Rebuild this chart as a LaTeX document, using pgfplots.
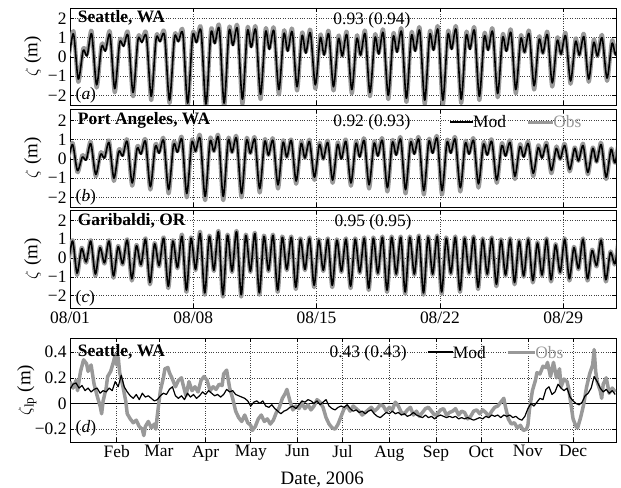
\documentclass[border=0pt]{standalone}
\usepackage{fontspec}
\setmainfont{Liberation Serif}
\usepackage{pgfplots}
\usepackage{pgfplotstable}
\pgfplotsset{compat=1.18}
\definecolor{obsgray}{gray}{0.6}

% tidal elevation, Aug 2006 (day 0 = 08/01)
\pgfplotstableread{
t mod obs
-0.29 0.30 0.40
-0.07 0.00 0.10
0.20 1.20 1.35
0.47 -1.15 -1.30
0.75 0.35 0.45
0.97 0.05 0.15
1.23 1.20 1.35
1.51 -1.45 -1.60
1.79 0.55 0.65
2.01 0.30 0.40
2.27 1.15 1.30
2.54 -1.65 -1.85
2.82 0.75 0.85
3.04 0.55 0.65
3.30 1.10 1.25
3.58 -1.85 -2.05
3.86 0.90 1.00
4.08 0.75 0.85
4.34 1.05 1.20
4.61 -2.05 -2.25
4.89 0.95 1.05
5.11 0.80 0.85
5.37 1.10 1.25
5.65 -2.25 -2.40
5.93 1.00 1.10
6.15 0.80 0.85
6.41 1.20 1.35
6.68 -2.40 -2.55
6.96 1.10 1.20
7.18 0.75 0.80
7.44 1.35 1.50
7.72 -2.45 -2.60
8.00 1.25 1.40
8.22 0.70 0.75
8.48 1.45 1.60
8.75 -2.40 -2.60
9.03 1.35 1.50
9.25 0.60 0.65
9.51 1.45 1.60
9.79 -2.20 -2.45
10.07 1.35 1.50
10.29 0.50 0.55
10.55 1.40 1.55
10.82 -1.95 -2.20
11.10 1.30 1.45
11.32 0.40 0.45
11.58 1.35 1.50
11.86 -1.70 -1.95
12.14 1.20 1.35
12.36 0.30 0.35
12.62 1.30 1.45
12.89 -1.55 -1.75
13.17 1.10 1.25
13.39 0.20 0.25
13.65 1.25 1.40
13.93 -1.45 -1.65
14.21 1.00 1.15
14.43 0.10 0.15
14.69 1.20 1.35
14.96 -1.55 -1.75
15.24 0.95 1.10
15.46 0.05 0.05
15.72 1.15 1.30
16.00 -1.70 -1.90
16.28 0.95 1.10
16.50 0.10 0.10
16.76 1.20 1.35
17.03 -1.85 -2.05
17.31 1.00 1.15
17.53 0.15 0.20
17.79 1.25 1.40
18.07 -2.00 -2.20
18.35 1.05 1.20
18.57 0.25 0.30
18.83 1.30 1.45
19.10 -2.15 -2.35
19.38 1.10 1.25
19.60 0.30 0.35
19.86 1.35 1.50
20.14 -2.25 -2.45
20.42 1.15 1.30
20.64 0.35 0.40
20.90 1.40 1.55
21.17 -2.25 -2.50
21.45 1.15 1.30
21.67 0.40 0.45
21.93 1.40 1.55
22.21 -2.20 -2.40
22.49 1.10 1.25
22.71 0.40 0.45
22.97 1.35 1.50
23.24 -2.05 -2.25
23.52 1.05 1.20
23.74 0.35 0.40
24.00 1.30 1.45
24.28 -1.90 -2.10
24.56 1.00 1.15
24.78 0.30 0.35
25.04 1.25 1.40
25.31 -1.70 -1.90
25.59 0.95 1.10
25.81 0.25 0.25
26.07 1.20 1.35
26.35 -1.50 -1.70
26.63 0.90 1.05
26.85 0.20 0.20
27.11 1.15 1.30
27.38 -1.35 -1.55
27.66 0.85 1.00
27.88 0.15 0.15
28.14 1.10 1.25
28.42 -1.25 -1.40
28.70 0.80 0.95
28.92 0.10 0.10
29.18 1.05 1.20
29.45 -1.15 -1.30
29.73 0.75 0.90
29.95 0.05 0.05
30.21 1.00 1.15
30.49 -1.10 -1.25
30.77 0.70 0.85
30.99 0.10 0.15
31.25 1.00 1.10
31.52 -1.10 -1.25
}\seadata

\pgfplotstableread{
t mod obs
-0.34 0.10 0.15
-0.12 -0.05 0.00
0.15 0.75 0.85
0.42 -0.60 -0.70
0.70 0.10 0.20
0.92 -0.05 0.00
1.18 0.80 0.90
1.46 -0.80 -0.90
1.74 0.25 0.35
1.96 0.05 0.10
2.22 0.85 0.95
2.49 -1.00 -1.15
2.77 0.40 0.50
2.99 0.15 0.20
3.25 0.90 1.00
3.53 -1.25 -1.40
3.81 0.55 0.65
4.03 0.25 0.30
4.29 0.90 1.00
4.56 -1.45 -1.60
4.84 0.65 0.75
5.06 0.30 0.35
5.32 0.95 1.05
5.60 -1.60 -1.80
5.88 0.75 0.85
6.10 0.35 0.40
6.36 1.00 1.10
6.63 -1.80 -2.00
6.91 0.85 0.95
7.13 0.40 0.40
7.39 1.05 1.20
7.67 -1.95 -2.15
7.95 0.90 1.05
8.17 0.40 0.40
8.43 1.10 1.20
8.70 -1.95 -2.15
8.98 0.95 1.05
9.20 0.35 0.35
9.46 1.05 1.15
9.74 -1.80 -2.00
10.02 0.95 1.05
10.24 0.30 0.30
10.50 1.00 1.10
10.77 -1.55 -1.75
11.05 0.90 1.00
11.27 0.20 0.20
11.53 0.95 1.05
11.81 -1.35 -1.55
12.09 0.85 0.95
12.31 0.10 0.10
12.57 0.95 1.00
12.84 -1.15 -1.30
13.12 0.80 0.90
13.34 0.05 0.05
13.60 0.90 1.00
13.88 -0.95 -1.10
14.16 0.75 0.85
14.38 0.00 0.00
14.64 0.85 0.95
14.91 -1.10 -1.25
15.19 0.75 0.85
15.41 0.00 0.05
15.67 0.90 1.00
15.95 -1.25 -1.40
16.23 0.80 0.90
16.45 0.10 0.15
16.71 0.95 1.05
16.98 -1.35 -1.55
17.26 0.80 0.90
17.48 0.15 0.20
17.74 0.95 1.05
18.02 -1.50 -1.70
18.30 0.85 0.95
18.52 0.20 0.25
18.78 1.00 1.10
19.05 -1.60 -1.80
19.33 0.85 0.95
19.55 0.25 0.30
19.81 1.00 1.10
20.09 -1.65 -1.85
20.37 0.90 1.00
20.59 0.30 0.35
20.85 1.05 1.15
21.12 -1.65 -1.85
21.40 0.85 0.95
21.62 0.30 0.35
21.88 1.00 1.10
22.16 -1.50 -1.70
22.44 0.80 0.90
22.66 0.25 0.30
22.92 0.95 1.05
23.19 -1.30 -1.50
23.47 0.75 0.85
23.69 0.20 0.25
23.95 0.90 1.00
24.23 -1.10 -1.25
24.51 0.70 0.80
24.73 0.15 0.20
24.99 0.85 0.95
25.26 -0.90 -1.05
25.54 0.65 0.75
25.76 0.10 0.15
26.02 0.80 0.90
26.30 -0.75 -0.90
26.58 0.60 0.70
26.80 0.05 0.10
27.06 0.75 0.85
27.33 -0.60 -0.75
27.61 0.55 0.65
27.83 0.00 0.00
28.09 0.70 0.80
28.37 -0.55 -0.65
28.65 0.55 0.60
28.87 -0.10 -0.10
29.13 0.70 0.80
29.40 -0.70 -0.80
29.68 0.55 0.60
29.90 -0.15 -0.15
30.16 0.75 0.85
30.44 -0.95 -1.05
30.72 0.50 0.55
30.94 -0.20 -0.20
31.20 0.80 0.90
31.47 -1.00 -1.10
}\padata

\pgfplotstableread{
t mod obs
-0.38 0.50 0.55
-0.12 -0.20 -0.25
0.15 0.90 0.95
0.40 -0.80 -0.90
0.66 0.50 0.55
0.92 -0.20 -0.25
1.18 0.90 0.95
1.44 -0.85 -0.95
1.70 0.55 0.60
1.96 -0.25 -0.30
2.22 0.90 0.95
2.47 -0.95 -1.05
2.73 0.60 0.65
2.99 -0.30 -0.35
3.25 0.95 1.00
3.51 -1.10 -1.20
3.77 0.65 0.70
4.03 -0.35 -0.40
4.29 1.00 1.05
4.54 -1.30 -1.40
4.80 0.75 0.80
5.06 -0.40 -0.45
5.32 1.05 1.10
5.58 -1.50 -1.60
5.84 0.90 0.95
6.10 -0.50 -0.55
6.36 1.15 1.25
6.61 -1.70 -1.80
6.87 1.05 1.10
7.13 -0.60 -0.65
7.39 1.30 1.40
7.65 -1.85 -1.95
7.91 1.15 1.20
8.17 -0.65 -0.70
8.43 1.40 1.45
8.68 -1.95 -2.05
8.94 1.20 1.25
9.20 -0.70 -0.75
9.46 1.40 1.45
9.72 -1.95 -2.05
9.98 1.20 1.25
10.24 -0.70 -0.75
10.50 1.30 1.35
10.75 -1.85 -1.95
11.01 1.15 1.20
11.27 -0.65 -0.70
11.53 1.20 1.25
11.79 -1.70 -1.80
12.05 1.10 1.15
12.31 -0.60 -0.65
12.57 1.10 1.15
12.82 -1.55 -1.65
13.08 1.00 1.05
13.34 -0.60 -0.65
13.60 1.05 1.10
13.86 -1.45 -1.55
14.12 0.95 1.00
14.38 -0.65 -0.70
14.64 1.00 1.05
14.89 -1.45 -1.55
15.15 0.95 1.00
15.41 -0.70 -0.75
15.67 1.00 1.05
15.93 -1.50 -1.60
16.19 1.00 1.05
16.45 -0.75 -0.80
16.71 1.05 1.10
16.96 -1.60 -1.70
17.22 1.05 1.10
17.48 -0.80 -0.85
17.74 1.10 1.15
18.00 -1.70 -1.80
18.26 1.10 1.15
18.52 -0.85 -0.90
18.78 1.10 1.15
19.03 -1.80 -1.90
19.29 1.10 1.15
19.55 -0.85 -0.90
19.81 1.15 1.20
20.07 -1.85 -1.95
20.33 1.10 1.15
20.59 -0.85 -0.90
20.85 1.15 1.20
21.10 -1.80 -1.90
21.36 1.05 1.10
21.62 -0.80 -0.85
21.88 1.10 1.15
22.14 -1.70 -1.80
22.40 1.05 1.10
22.66 -0.80 -0.85
22.92 1.10 1.15
23.17 -1.55 -1.65
23.43 1.00 1.05
23.69 -0.85 -0.90
23.95 1.05 1.10
24.21 -1.40 -1.50
24.47 0.95 1.00
24.73 -0.90 -0.95
24.99 1.00 1.05
25.24 -1.30 -1.40
25.50 0.90 0.95
25.76 -0.95 -1.00
26.02 1.00 1.05
26.28 -1.20 -1.30
26.54 0.80 0.85
26.80 -0.90 -0.95
27.06 1.00 1.05
27.31 -1.15 -1.25
27.57 0.70 0.75
27.83 -0.75 -0.80
28.09 1.00 1.05
28.35 -1.10 -1.20
28.61 0.55 0.60
28.87 -0.55 -0.60
29.13 1.00 1.05
29.38 -1.10 -1.20
29.64 0.40 0.45
29.90 -0.40 -0.45
30.16 0.95 1.00
30.42 -1.15 -1.25
30.68 0.30 0.35
30.94 -0.30 -0.35
31.20 1.00 1.05
31.45 -1.15 -1.25
}\gadata

\pgfplotsset{
  base/.style={
    scale only axis, width=546bp, anchor=south west,
    grid=major, major grid style={dotted, black!75, line width=0.6bp},
    tick align=inside, major tick length=4bp,
    every tick/.style={black, line width=0.6bp},
    axis line style={line width=0.8bp},
    font=\fontsize{17.5}{20}\selectfont,
    ylabel style={anchor=center, font=\fontsize{19}{22}\selectfont},
  },
  tide/.style={
    base, xmin=0, xmax=31,
    xtick={0,7,14,21,28}, xticklabels={},
    ytick={-2,-1,0,1,2}, yticklabels={−2,−1,0,1,2},
    ylabel={$\zeta$ (m)},
    ylabel style={at={(rel axis cs:-0.068,0.5)}},
  },
  modline/.style={black, line width=1.6bp, smooth, tension=0.5, line join=round},
  obsline/.style={obsgray, line width=4bp, smooth, tension=0.5, line join=round},
}
\tikzset{site/.style={anchor=west, font=\fontsize{17.5}{20}\selectfont\bfseries}}

\begin{document}
\begin{tikzpicture}
\useasboundingbox (0,0) rectangle (621bp,488bp);

\begin{axis}[tide, at={(70bp,383bp)}, height=97bp, ymin=-2.5, ymax=2.55]
\addplot[obsline] table[x=t, y=obs] {\seadata};
\addplot[modline] table[x=t, y=mod] {\seadata};
\node[site] at (rel axis cs:0.008,0.895) {Seattle, WA};
\node at (rel axis cs:0.553,0.876) {0.93 (0.94)};
\node[anchor=west] at (rel axis cs:0.004,0.1) {(\textit{a})};
\end{axis}

\begin{axis}[tide, at={(70bp,281bp)}, height=98bp, ymin=-2.5, ymax=2.6]
\addplot[obsline] table[x=t, y=obs] {\padata};
\addplot[modline] table[x=t, y=mod] {\padata};
\node[site] at (rel axis cs:0.008,0.885) {Port Angeles, WA};
\node at (rel axis cs:0.553,0.867) {0.92 (0.93)};
\node[anchor=west] at (rel axis cs:0.004,0.1) {(\textit{b})};
\draw[black, line width=1.5bp] (rel axis cs:0.696,0.867) -- (rel axis cs:0.738,0.867);
\node[anchor=west, inner sep=0pt] at (rel axis cs:0.738,0.867) {Mod};
\draw[obsgray, line width=3bp] (rel axis cs:0.839,0.867) -- (rel axis cs:0.885,0.867);
\node[anchor=west, inner sep=0pt, text=obsgray] at (rel axis cs:0.885,0.867) {Obs};
\end{axis}

\begin{axis}[tide, at={(70bp,180bp)}, height=98bp, ymin=-2.65, ymax=2.55,
  xticklabels={08/01,08/08,08/15,08/22,08/29}]
\addplot[obsline] table[x=t, y=obs] {\gadata};
\addplot[modline] table[x=t, y=mod] {\gadata};
\node[site] at (rel axis cs:0.008,0.885) {Garibaldi, OR};
\node at (rel axis cs:0.555,0.878) {0.95 (0.95)};
\node[anchor=west] at (rel axis cs:0.004,0.1) {(\textit{c})};
\end{axis}

% low-passed Seattle record, 2006 (day 0 = Jan 1)
\begin{axis}[base, at={(70bp,46bp)}, height=104bp,
  xmin=0, xmax=362.5, ymin=-0.3, ymax=0.51,
  xtick={31,59,90,120,151,181,212,243,273,304,334},
  xticklabels={Feb,Mar,Apr,May,Jun,Jul,Aug,Sep,Oct,Nov,Dec},
  ytick={-0.2,0,0.2,0.4}, yticklabels={−0.2,0,0.2,0.4},
  ylabel={$\zeta_{\mathrm{lp}}$ (m)},
  ylabel style={at={(rel axis cs:-0.079,0.5)}},
  xlabel={Date, 2006},
  xlabel style={at={(rel axis cs:0.462,-0.365)}, anchor=center, font=\fontsize{19}{22}\selectfont}]
\addplot[black, line width=0.6bp] coordinates {(0,0) (362.5,0)};
\addplot[obsgray, line width=3.5bp, line join=round] coordinates {
(0,0.17) (2,0.12) (4,0.18) (5,0.10) (7,0.25) (9,0.34) (11,0.31) (12,0.25) (14,0.30)
(16,0.15) (18,0.06) (20,-0.02) (21,-0.08) (22,0.02) (24,0.12) (25,0.21) (27,0.25)
(29,0.33) (30,0.38) (31,0.30) (32,0.36) (33,0.24) (35,0.14) (37,0.02) (38,-0.08)
(40,-0.12) (42,-0.15) (44,-0.13) (46,-0.18) (48,-0.20) (49,-0.25) (50,-0.18) (52,-0.14)
(54,-0.19) (56,-0.16) (57,-0.20) (58,-0.09) (60,0.10) (62,0.20) (63,0.27) (65,0.28)
(66,0.24) (68,0.19) (70,0.13) (72,0.18) (74,0.20) (75,0.15) (77,0.06) (79,0.17)
(81,0.10) (83,0.13) (85,0.09) (87,0.18) (89,0.21) (91,0.18) (93,0.10) (95,0.13)
(97,0.11) (99,0.15) (101,0.14) (102,0.23) (104,0.26) (106,0.12) (108,0.04) (110,-0.06)
(112,-0.11) (114,-0.14) (116,-0.09) (118,-0.15) (120,-0.17) (121,-0.21) (123,-0.18)
(125,-0.12) (127,-0.09) (129,-0.14) (131,-0.12) (133,-0.16) (135,-0.13) (137,-0.07)
(139,-0.03) (141,0.04) (143,0.08) (144,0.11) (146,0.02) (148,-0.05) (150,-0.02)
(152,-0.04) (154,0.00) (156,-0.04) (158,-0.01) (160,-0.05) (162,-0.02) (164,0.03)
(166,0.01) (168,-0.03) (170,-0.11) (172,-0.16) (174,-0.19) (176,-0.20) (178,-0.16)
(180,-0.10) (182,-0.04) (184,-0.02) (186,-0.06) (188,-0.02) (190,-0.04) (192,-0.06)
(194,-0.09) (196,-0.07) (198,-0.05) (200,-0.03) (202,-0.06) (204,-0.04) (206,-0.01)
(208,-0.02) (210,-0.06) (212,-0.03) (214,-0.05) (216,0.01) (218,-0.02) (220,-0.07)
(222,-0.08) (224,-0.05) (226,-0.03) (228,-0.09) (230,-0.06) (232,-0.10) (234,-0.07)
(236,-0.04) (238,-0.03) (240,-0.06) (242,-0.09) (244,-0.08) (246,-0.05) (248,-0.04)
(250,-0.09) (252,-0.07) (254,-0.06) (256,-0.04) (258,-0.09) (260,-0.06) (262,-0.07)
(264,-0.12) (266,-0.10) (268,-0.06) (270,-0.05) (272,-0.08) (274,-0.05) (276,-0.07)
(278,-0.10) (280,-0.06) (282,-0.03) (284,-0.02) (286,0.01) (288,0.04) (289,-0.02)
(291,-0.12) (293,-0.16) (295,-0.15) (297,-0.19) (299,-0.17) (301,-0.21) (303,-0.20)
(304,-0.17) (305,-0.05) (307,0.10) (309,0.18) (310,0.24) (312,0.23) (314,0.29)
(316,0.28) (317,0.32) (319,0.21) (321,0.32) (323,0.20) (325,0.27) (326,0.13)
(328,0.19) (330,0.17) (331,0.12) (332,0.04) (334,-0.12) (336,-0.18) (337,-0.19)
(339,-0.11) (341,-0.01) (343,0.13) (345,0.23) (347,0.30) (348,0.42) (349,0.25)
(350,0.17) (352,0.10) (353,0.04) (354,0.15) (356,0.20) (358,0.08) (360,0.12) (362,0.09)
};
\addplot[black, line width=1.2bp, line join=round] coordinates {
(0,0.11) (2,0.15) (4,0.16) (6,0.12) (8,0.14) (10,0.10) (12,0.12) (14,0.09) (16,0.11)
(18,0.12) (20,0.08) (22,0.10) (24,0.09) (26,0.12) (28,0.10) (30,0.17) (32,0.13)
(34,0.22) (36,0.13) (38,0.09) (40,0.06) (42,0.04) (44,0.07) (46,0.03) (48,0.08)
(50,0.05) (52,0.06) (54,0.04) (56,0.02) (58,0.03) (60,0.06) (62,0.08) (64,0.07)
(66,0.11) (68,0.13) (70,0.06) (72,0.04) (74,0.06) (76,0.03) (78,0.08) (80,0.05)
(82,0.07) (84,0.04) (86,0.06) (88,0.09) (90,0.07) (92,0.10) (94,0.08) (96,0.06)
(98,0.07) (100,0.05) (102,0.07) (104,0.11) (106,0.09) (108,0.10) (110,0.07) (112,0.06)
(114,0.05) (116,0.04) (118,0.02) (120,-0.02) (122,0.01) (124,0.02) (126,0.00)
(128,0.02) (130,-0.02) (132,-0.03) (134,-0.01) (136,-0.04) (138,-0.06) (140,-0.08)
(142,-0.06) (144,-0.05) (146,-0.03) (148,-0.02) (150,-0.04) (152,-0.01) (154,0.02)
(156,0.01) (158,0.03) (160,0.02) (162,0.00) (164,0.02) (166,-0.01) (168,0.01)
(170,0.03) (172,-0.02) (174,-0.04) (176,-0.05) (178,-0.03) (180,-0.02) (182,-0.03)
(184,-0.01) (186,-0.04) (188,-0.06) (190,-0.05) (192,-0.07) (194,-0.06) (196,-0.08)
(198,-0.06) (200,-0.05) (202,-0.08) (204,-0.10) (206,-0.11) (208,-0.09) (210,-0.07)
(212,-0.08) (214,-0.06) (216,-0.08) (218,-0.07) (220,-0.09) (222,-0.08) (224,-0.10)
(226,-0.09) (228,-0.07) (230,-0.09) (232,-0.10) (234,-0.11) (236,-0.09) (238,-0.11)
(240,-0.10) (242,-0.12) (244,-0.10) (246,-0.09) (248,-0.10) (250,-0.11) (252,-0.10)
(254,-0.11) (256,-0.10) (258,-0.12) (260,-0.11) (262,-0.12) (264,-0.11) (266,-0.12)
(268,-0.13) (270,-0.12) (272,-0.11) (274,-0.12) (276,-0.10) (278,-0.11) (280,-0.09)
(282,-0.10) (284,-0.09) (286,-0.11) (288,-0.09) (290,-0.10) (292,-0.09) (294,-0.11)
(296,-0.10) (298,-0.12) (300,-0.13) (302,-0.10) (304,-0.04) (306,0.00) (308,-0.02)
(310,0.01) (312,0.04) (314,0.03) (316,0.11) (318,0.13) (320,0.07) (322,0.09)
(324,0.15) (326,0.12) (328,0.10) (330,0.12) (332,0.05) (334,0.02) (336,0.00)
(338,-0.01) (340,0.01) (342,0.06) (344,0.08) (346,0.12) (348,0.21) (350,0.17)
(352,0.12) (354,0.09) (356,0.11) (358,0.08) (360,0.10) (362,0.07)
};
\node[site] at (rel axis cs:0.008,0.865) {Seattle, WA};
\node at (rel axis cs:0.546,0.856) {0.43 (0.43)};
\node[anchor=west] at (rel axis cs:0.004,0.135) {(\textit{d})};
\draw[black, line width=1.5bp] (rel axis cs:0.656,0.865) -- (rel axis cs:0.701,0.865);
\node[anchor=west, inner sep=0pt] at (rel axis cs:0.701,0.865) {Mod};
\draw[obsgray, line width=3bp] (rel axis cs:0.802,0.865) -- (rel axis cs:0.852,0.865);
\node[anchor=west, inner sep=0pt, text=obsgray] at (rel axis cs:0.852,0.865) {Obs};
\end{axis}
\end{tikzpicture}
\end{document}
